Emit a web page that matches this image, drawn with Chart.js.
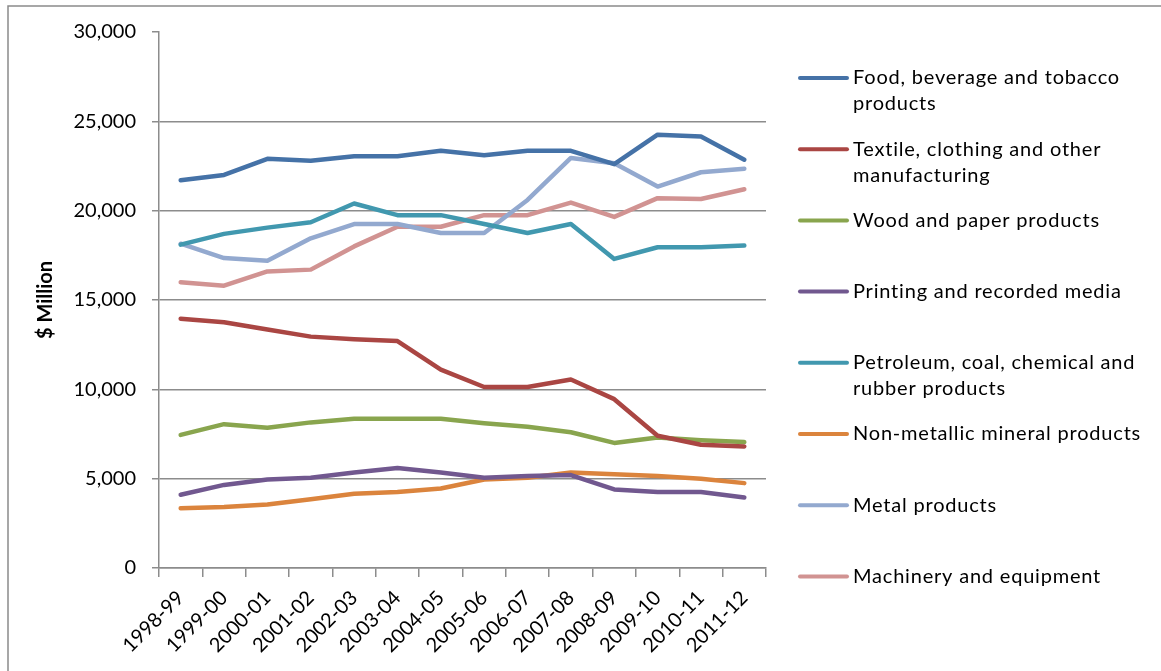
<!DOCTYPE html>
<html>
<head>
<meta charset="utf-8">
<title>Manufacturing industry value</title>
<script src="https://cdn.jsdelivr.net/npm/chart.js@4.4.1/dist/chart.umd.min.js"></script>
<style>
  html, body { margin: 0; padding: 0; background: #fff; overflow: hidden; }
  canvas { display: block; }
</style>
</head>
<body>
<canvas id="myChart" width="1161" height="671"></canvas>
<script>
var years = ["1998-99", "1999-00", "2000-01", "2001-02", "2002-03", "2003-04", "2004-05",
	"2005-06", "2006-07", "2007-08", "2008-09", "2009-10", "2010-11", "2011-12"];

// $ million per industry
var food = [21700, 22000, 22900, 22800, 23050, 23050, 23350, 23100, 23350, 23350, 22600, 24250, 24150, 22850];
var textile = [13950, 13750, 13350, 12950, 12800, 12700, 11100, 10130, 10130, 10550, 9450, 7400, 6900, 6800];
var wood = [7450, 8050, 7850, 8150, 8350, 8350, 8350, 8100, 7900, 7600, 7000, 7300, 7150, 7050];
var printing = [4100, 4650, 4950, 5050, 5350, 5600, 5350, 5050, 5150, 5200, 4400, 4250, 4250, 3950];
var petroleum = [18100, 18700, 19050, 19350, 20400, 19750, 19750, 19250, 18750, 19250, 17300, 17950, 17950, 18050];
var nonMetallic = [3350, 3420, 3550, 3850, 4150, 4250, 4450, 4950, 5050, 5350, 5250, 5150, 5000, 4750];
var metal = [18150, 17350, 17200, 18450, 19250, 19250, 18750, 18750, 20600, 22950, 22650, 21350, 22150, 22350];
var machinery = [16000, 15800, 16600, 16700, 18000, 19100, 19100, 19750, 19750, 20450, 19650, 20700, 20650, 21200];

var yTicks = [0, 5000, 10000, 15000, 20000, 25000, 30000];

// legend names, already split where they wrap
var names = [
	["Food, beverage and tobacco", "products"],
	["Textile, clothing and other", "manufacturing"],
	["Wood and paper products"],
	["Printing and recorded media"],
	["Petroleum, coal, chemical and", "rubber products"],
	["Non-metallic mineral products"],
	["Metal products"],
	["Machinery and equipment"]
];
var series = [food, textile, wood, printing, petroleum, nonMetallic, metal, machinery];
var colors = ["#4572A7", "#AA4643", "#89A54E", "#71588F", "#4198AF", "#DB843D", "#93A9CF", "#D19392"];

var axisGrey = "#8c8c8c";

Chart.defaults.font.family = "Lato, 'Open Sans', sans-serif";
Chart.defaults.font.size = 20;
Chart.defaults.color = "#000";

var frame = {
	id: "frame",
	beforeDraw: function(chart){
		var ctx = chart.ctx;
		ctx.save();
		ctx.fillStyle = "#fff";
		ctx.fillRect(0, 0, chart.width, chart.height);
		ctx.strokeStyle = "#8a8a8a";
		ctx.lineWidth = 1.5;
		ctx.beginPath();
		ctx.moveTo(8, chart.height);
		ctx.lineTo(8, 6);
		ctx.lineTo(chart.width, 6);
		ctx.stroke();
		ctx.restore();
	}
};

var sideLegend = {
	id: "sideLegend",
	afterDraw: function(chart){
		var ctx = chart.ctx;
		ctx.save();
		ctx.font = "20px Lato";
		ctx.letterSpacing = "0.8px";
		ctx.textBaseline = "middle";
		ctx.lineCap = "round";
		chart.data.datasets.forEach(function(ds, i){
			var y = 78 + i * 71.2;
			ctx.strokeStyle = ds.borderColor;
			ctx.lineWidth = 4;
			ctx.beginPath();
			ctx.moveTo(800, y);
			ctx.lineTo(847, y);
			ctx.stroke();
			ctx.fillStyle = "#000";
			names[i].forEach(function(line, j){
				ctx.fillText(line, 853, y + j * 26);
			});
		});
		ctx.restore();
	}
};

var datasets = [];
for (var i = 0; i < series.length; i++) {
	datasets.push({
		label: names[i].join(" "),
		data: series[i],
		borderColor: colors[i],
		backgroundColor: colors[i],
		borderWidth: 4.5,
		borderCapStyle: "round",
		borderJoinStyle: "round",
		pointRadius: 0,
		tension: 0,
		fill: false
	});
}

var ctx = document.getElementById("myChart");
var myChart = new Chart(ctx, {
	type: "line",
	data: {
		labels: years,
		datasets: datasets
	},
	options: {
		responsive: false,
		animation: false,
		layout: { padding: { top: 32, right: 395, left: 0, bottom: 0 } },
		plugins: {
			legend: { display: false },
			tooltip: { enabled: false }
		},
		scales: {
			x: {
				offset: true,
				ticks: { maxRotation: 45, minRotation: 45, autoSkip: false, padding: 9 },
				grid: { drawOnChartArea: false, offset: true, tickLength: 9, color: axisGrey, lineWidth: 1.5 },
				border: { color: axisGrey, width: 1.5 },
				afterFit: function(s){ s.height = 103; }
			},
			y: {
				min: 0,
				max: 30000,
				afterBuildTicks: function(s){
					s.ticks = yTicks.map(function(v){ return { value: v }; });
				},
				ticks: {
					padding: 16,
					callback: function(v){ return v.toLocaleString("en-US"); }
				},
				grid: {
					tickLength: 7,
					lineWidth: 1.5,
					tickColor: axisGrey,
					color: function(c){ return c.tick && c.tick.value === 30000 ? "rgba(0,0,0,0)" : axisGrey; }
				},
				border: { color: axisGrey, width: 1.5 },
				title: {
					display: true,
					text: "$ Million",
					font: { size: 20, weight: "bold" },
					padding: { top: 34, bottom: 0 }
				},
				afterFit: function(s){ s.width = 159; }
			}
		}
	},
	plugins: [frame, sideLegend]
});
</script>
</body>
</html>
